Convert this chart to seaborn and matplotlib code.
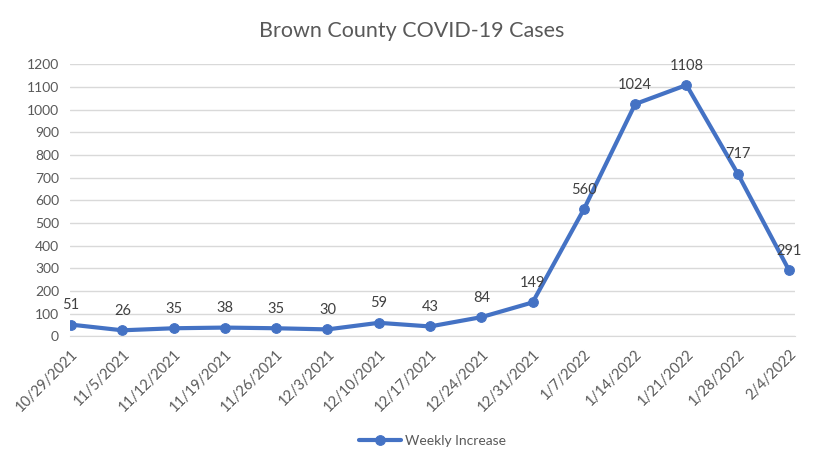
import numpy as np
import pandas as pd
import matplotlib
matplotlib.use("Agg")
import matplotlib.pyplot as plt
import seaborn as sns

weeks = ["10/29/2021", "11/5/2021", "11/12/2021", "11/19/2021", "11/26/2021",
         "12/3/2021", "12/10/2021", "12/17/2021", "12/24/2021", "12/31/2021",
         "1/7/2022", "1/14/2022", "1/21/2022", "1/28/2022", "2/4/2022"]
weekly_increase = [51, 26, 35, 38, 35, 30, 59, 43, 84, 149, 560, 1024, 1108, 717, 291]
y_ticks = list(range(0, 1300, 100))

df = pd.DataFrame({"pos": np.arange(len(weeks)), "week": weeks, "cases": weekly_increase})

sns.set_style("white")
plt.rcParams["font.family"] = ["Lato", "DejaVu Sans"]
gray = "#595959"
blue = "#4472C4"

fig = plt.figure(figsize=(8.24, 4.65), dpi=100)
ax = fig.add_axes([0.085, 0.277, 0.88, 0.585])

sns.lineplot(data=df, x="pos", y="cases", ax=ax, color=blue, linewidth=3,
             marker="o", markersize=7, markeredgecolor=blue, label="Weekly Increase")

for _, r in df.iterrows():
    ax.annotate(str(r["cases"]), (r["pos"], r["cases"]), xytext=(0, 9),
                textcoords="offset points", ha="center", va="bottom",
                fontsize=10.5, color="#404040")

ax.set_xlim(-0.02, 14.12)
ax.set_ylim(0, 1200)
ax.set_yticks(y_ticks)
ax.set_xticks(df["pos"])
ax.set_xticklabels(weeks, rotation=45, ha="right", rotation_mode="anchor")
ax.tick_params(axis="x", length=5, color="#D9D9D9", labelcolor=gray, labelsize=10.5, pad=3)
ax.tick_params(axis="y", length=0, colors=gray, labelsize=10, pad=8)
ax.grid(axis="y", color="#D9D9D9", linewidth=1)
ax.set_axisbelow(True)
for s in ["top", "right", "left"]:
    ax.spines[s].set_visible(False)
ax.spines["bottom"].set_color("#D9D9D9")
ax.set_xlabel("")
ax.set_ylabel("")

fig.suptitle("Brown County COVID-19 Cases", y=0.955, fontsize=15.5, color=gray)

ax.legend(loc="center", bbox_to_anchor=(0.5, -0.386), frameon=False,
          fontsize=10, labelcolor=gray, handlelength=3, handletextpad=0.3)

fig.savefig("out.png", dpi=100, facecolor="white")
